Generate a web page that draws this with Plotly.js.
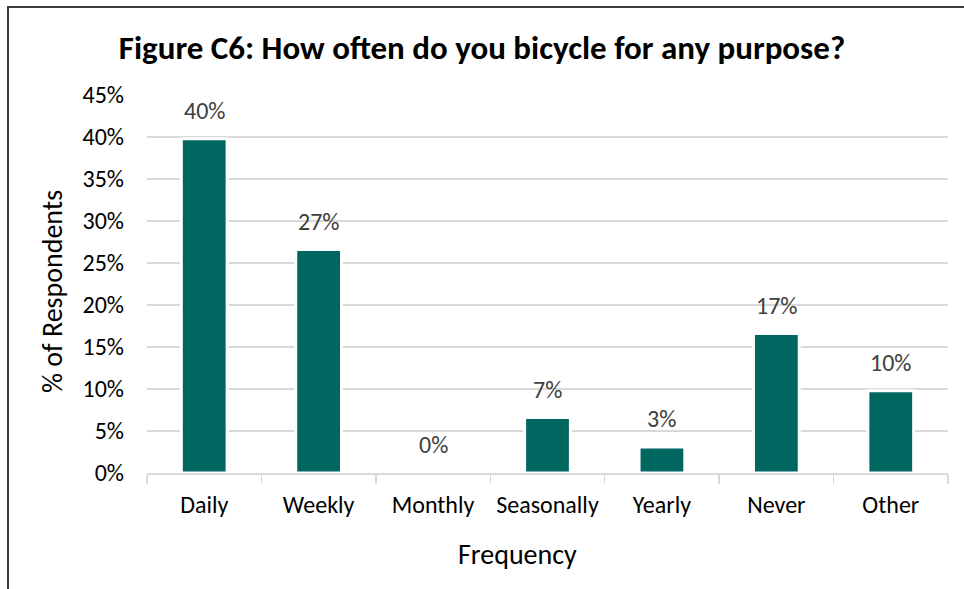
<!DOCTYPE html>
<html>
<head>
<meta charset="utf-8">
<script src="https://cdn.plot.ly/plotly-3.0.1.min.js"></script>
<style>
  html, body { margin: 0; padding: 0; background: #fff; }
  #wrap { position: relative; width: 964px; height: 589px; }
  #chart { width: 964px; height: 589px; }
  #frame { position: absolute; left: 7px; top: 6px; width: 964px; height: 600px;
           border-left: 2px solid #3a3a3a; border-top: 2px solid #3a3a3a; pointer-events: none; }
</style>
</head>
<body>
<div id="wrap">
  <div id="chart"></div>
  <div id="frame"></div>
</div>
<script>
const categories = ["Daily", "Weekly", "Monthly", "Seasonally", "Yearly", "Never", "Other"];
const values = [39.8, 26.6, 0, 6.6, 3.1, 16.6, 9.8];
const yTicks = [0, 5, 10, 15, 20, 25, 30, 35, 40, 45];
const yTickLabels = ["0%", "5%", "10%", "15%", "20%", "25%", "30%", "35%", "40%", "45%"];

const FONT = "Carlito, Lato, 'Open Sans', sans-serif";

const trace = {
  type: "bar",
  x: categories,
  y: values,
  marker: { color: "#006660", line: { color: "#ffffff", width: 3 } },
  hoverinfo: "x+y"
};

const labelAnnotations = categories.map((c, i) => ({
  x: c, y: values[i], xref: "x", yref: "y",
  text: Math.round(values[i]) + "%",
  showarrow: false, yanchor: "bottom", yshift: 12,
  font: { family: FONT, size: 24, color: "#404040" }
}));

const layout = {
  width: 964, height: 589,
  margin: { l: 147, r: 16, t: 95, b: 116 },
  paper_bgcolor: "#ffffff", plot_bgcolor: "#ffffff",
  showlegend: false,
  bargap: 0.6,
  font: { family: FONT, color: "#000000" },
  title: {
    text: "<b>Figure C6: How often do you bicycle for any purpose?</b>",
    font: { family: FONT, size: 33, color: "#000000" },
    x: 486.5, xref: "container", xanchor: "center",
    y: 0.92, yref: "container", yanchor: "middle"
  },
  xaxis: {
    type: "category",
    showgrid: false,
    showline: true, linecolor: "#d9d9d9", linewidth: 1.5,
    ticks: "outside", tickson: "boundaries", ticklen: 9, tickcolor: "#d9d9d9", tickwidth: 1.5,
    tickangle: 0,
    tickfont: { family: FONT, size: 24, color: "#000000" },
    ticklabelstandoff: 10,
    fixedrange: true
  },
  yaxis: {
    range: [0, 45],
    tickmode: "array", tickvals: yTicks, ticktext: yTickLabels,
    showgrid: true, gridcolor: "#d9d9d9", gridwidth: 1.5,
    zeroline: false, showline: false, ticks: "",
    tickfont: { family: FONT, size: 24, color: "#000000" },
    ticklabelstandoff: 22,
    fixedrange: true
  },
  annotations: labelAnnotations.concat([
    {
      text: "% of Respondents", xref: "paper", yref: "paper",
      x: -0.118, y: 0.48, xanchor: "center", yanchor: "middle",
      textangle: -90, showarrow: false,
      font: { family: FONT, size: 28, color: "#000000" }
    },
    {
      text: "Frequency", xref: "paper", yref: "paper",
      x: 0.4625, y: -0.215, xanchor: "center", yanchor: "middle",
      showarrow: false,
      font: { family: FONT, size: 28, color: "#000000" }
    }
  ])
};

Plotly.newPlot("chart", [trace], layout, { displayModeBar: false, staticPlot: true });
</script>
</body>
</html>
